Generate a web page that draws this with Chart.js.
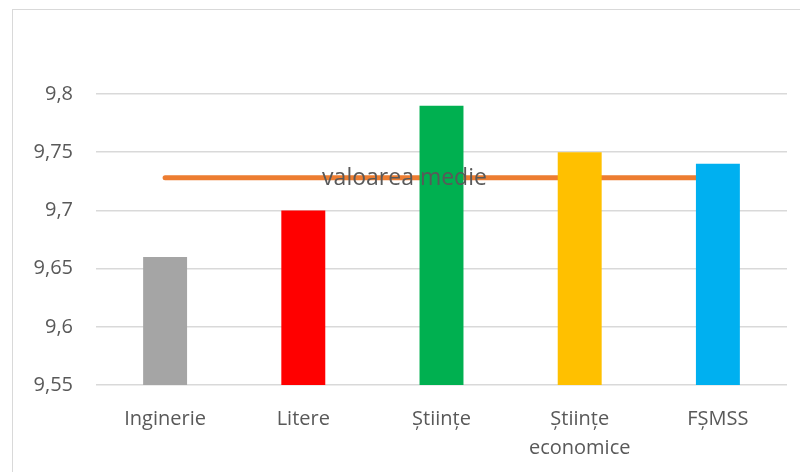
<!DOCTYPE html>
<html>
<head>
<meta charset="utf-8">
<script src="https://cdn.jsdelivr.net/npm/chart.js@4"></script>
<style>
  body { margin: 0; background: #fff; }
  #frame { position: absolute; left: 12px; top: 9px; width: 800px; height: 480px; border: 1px solid #d9d9d9; }
  #wrap { position: absolute; left: 0; top: 0; width: 800px; height: 472px; }
</style>
</head>
<body>
<div id="frame"></div>
<div id="wrap"><canvas id="chartBar"></canvas></div>
<script>
const categories = ["Inginerie", "Litere", "Științe", ["Științe", "economice"], "FȘMSS"];
const values = [9.66, 9.70, 9.79, 9.75, 9.74];
const barColors = ["#A5A5A5", "#FF0000", "#00B050", "#FFC000", "#00B0F0"];
const meanValue = 9.728;
const meanLabel = "valoarea medie";
const yTicks = [9.55, 9.6, 9.65, 9.7, 9.75, 9.8];

// text drawn on top of the mean line
const meanLabelPlugin = {
  id: "meanLabel",
  afterDatasetsDraw(chart) {
    const ctx = chart.ctx;
    const x = chart.scales.x;
    const y = chart.scales.y;
    const cx = (x.getPixelForValue(0) + x.getPixelForValue(categories.length - 1)) / 2 - 37;
    ctx.save();
    ctx.font = "23px 'Open Sans'";
    ctx.fillStyle = "#595959";
    ctx.textAlign = "center";
    ctx.textBaseline = "middle";
    ctx.fillText(meanLabel, cx, y.getPixelForValue(meanValue) + 1);
    ctx.restore();
  },
};

const configBar = {
  type: "bar",
  data: {
    labels: categories,
    datasets: [
      {
        type: "bar",
        data: values,
        backgroundColor: barColors,
        barPercentage: 0.318,
        categoryPercentage: 1,
        order: 0,
      },
      {
        type: "line",
        data: categories.map(() => meanValue),
        borderColor: "#ED7D31",
        borderWidth: 5,
        borderCapStyle: "round",
        pointRadius: 0,
        order: 1,
      },
    ],
  },
  options: {
    responsive: false,
    animation: false,
    layout: { padding: { top: 94, right: 13, left: 0, bottom: 0 } },
    plugins: { legend: { display: false }, tooltip: { enabled: false } },
    scales: {
      x: {
        grid: { display: false },
        border: { display: false },
        ticks: {
          color: "#595959",
          font: { family: "'Open Sans'", size: 20, lineHeight: 1.45 },
          padding: 12,
          maxRotation: 0,
          autoSkip: false,
        },
        afterFit(scale) { scale.height = 87; },
      },
      y: {
        min: 9.55,
        max: 9.8,
        afterBuildTicks(scale) { scale.ticks = yTicks.map((v) => ({ value: v })); },
        grid: { color: "#d9d9d9", lineWidth: 1.5, drawTicks: false },
        border: { display: false },
        ticks: {
          color: "#595959",
          font: { family: "'Open Sans'", size: 20 },
          padding: 23,
          callback: (v) => String(Number(v.toFixed(2))).replace(".", ","),
        },
        afterFit(scale) { scale.width = 96; },
      },
    },
  },
  plugins: [meanLabelPlugin],
};

const canvas = document.getElementById("chartBar");
canvas.width = 800;
canvas.height = 472;
let chartBar = new Chart(canvas, configBar);
</script>
</body>
</html>
